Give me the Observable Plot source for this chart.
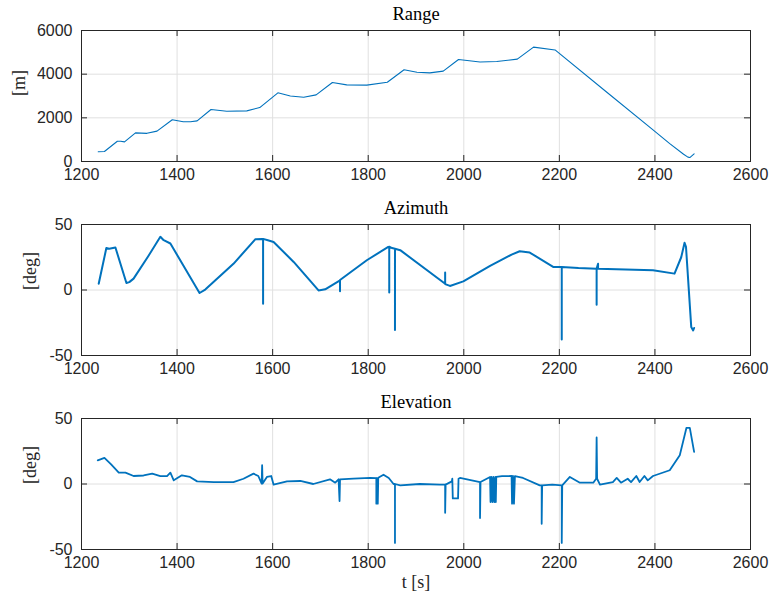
<!DOCTYPE html>
<html>
<head>
<meta charset="utf-8">
<script src="https://cdn.jsdelivr.net/npm/d3@7"></script>
<script src="https://cdn.jsdelivr.net/npm/@observablehq/plot@0.6"></script>
<style>
  body { margin: 0; background: #fff; }
  #chart { position: relative; width: 770px; height: 599px; overflow: hidden; }
  #chart svg { position: absolute; left: 0; }
</style>
</head>
<body>
<div id="chart"></div>
<script>
// ---- tick labels ----
const xTicks = [1200, 1400, 1600, 1800, 2000, 2200, 2400, 2600];
const rangeTicks = [0, 2000, 4000, 6000];
const angleTicks = [-50, 0, 50];

// ---- titles / labels ----
const titles = ["Range", "Azimuth", "Elevation"];
const yLabels = ["[m]", "[deg]", "[deg]"];
const xLabel = "t [s]";

// ---- Range [m] vs t [s] ----
const rangeT = [1235, 1248, 1275, 1282, 1290, 1313, 1337, 1358, 1390, 1413, 1428, 1442, 1471, 1504, 1546, 1573, 1611, 1637, 1665, 1691, 1725, 1755, 1797, 1840, 1875, 1902, 1929, 1957, 1989, 2034, 2069, 2112, 2146, 2191, 2300, 2396, 2431, 2460, 2469, 2473, 2482];
const rangeV = [450, 460, 930, 930, 900, 1310, 1290, 1390, 1910, 1820, 1820, 1860, 2380, 2300, 2320, 2470, 3145, 3000, 2945, 3050, 3620, 3510, 3500, 3630, 4200, 4090, 4060, 4140, 4670, 4560, 4580, 4690, 5240, 5110, 3160, 1450, 820, 330, 200, 180, 350];

// ---- Azimuth [deg] vs t [s] ----
const azT = [1236, 1252, 1258, 1271, 1294, 1300, 1309, 1340, 1365, 1372, 1386, 1447, 1459, 1518, 1564, 1578, 1580, 1580, 1580, 1590, 1602, 1644, 1696, 1710, 1741, 1741, 1741, 1797, 1842, 1844, 1844, 1844, 1850, 1856, 1856, 1856, 1867, 1961, 1961, 1961, 1971, 1999, 2055, 2100, 2117, 2138, 2187, 2205, 2205, 2205, 2240, 2278, 2278, 2278, 2281, 2281, 2396, 2441, 2455, 2462, 2465, 2476, 2480, 2482];
const azV = [4.8, 32, 31.5, 32.4, 5.4, 6, 8.7, 26, 40.6, 38, 35.5, -2.3, 0.3, 20, 38.8, 39, 39, -10.5, 39, 38, 36.7, 21.4, -0.3, 0.5, 7.4, -1, 7.6, 22.7, 32.9, 33, -2, 33, 32, 31.5, -30.6, 31.5, 30.4, 4.8, 13.3, 4.5, 3.1, 6.6, 18.4, 27, 29.6, 28.6, 17.6, 17.6, -37.8, 17.6, 16.8, 16.3, -11.2, 16.3, 20, 16.3, 15, 12.5, 25, 36, 33, -28.3, -30.9, -29];

// ---- Elevation [deg] vs t [s] ----
const elT = [1234, 1248, 1262, 1278, 1292, 1309, 1330, 1348, 1365, 1379, 1386, 1393, 1410, 1427, 1442, 1477, 1518, 1539, 1560, 1570, 1577, 1578, 1579, 1588, 1597, 1602, 1630, 1658, 1685, 1720, 1731, 1738, 1740, 1741, 1769, 1804, 1817, 1817, 1818, 1820, 1821, 1832, 1843, 1853, 1856, 1856, 1856, 1867, 1908, 1950, 1961, 1961, 1962, 1975, 1976, 1977, 1988, 1989, 1992, 2034, 2034, 2035, 2055, 2056, 2058, 2060, 2062, 2064, 2066, 2067, 2068, 2080, 2100, 2101, 2103, 2105, 2107, 2124, 2159, 2163, 2163, 2164, 2185, 2205, 2205, 2206, 2222, 2243, 2271, 2277, 2278, 2279, 2285, 2312, 2320, 2329, 2343, 2350, 2361, 2368, 2378, 2385, 2396, 2431, 2452, 2466, 2473, 2482];
const elV = [18.1, 19.9, 15, 8.7, 8.7, 6.1, 6.5, 7.9, 6, 6.1, 8.7, 2.8, 6.6, 5.4, 2, 1.5, 1.5, 4, 7.9, 6.1, 0.3, 14.3, 0.3, 5.4, 6.1, -0.5, 2, 2.3, 0, 3.6, 1, 3.6, -13, 3.6, 4.1, 4.6, 4.5, -15, 4.5, -15, 4.8, 7.1, 4.6, 0, 0, -45, 0, -1, 0, -0.5, -0.5, -22, -0.5, 2, 4, -11, -11, 4, 4.6, 1.5, -26, 1.5, 5.4, -13.8, 5.4, -13.8, 5.4, -13.8, 5.4, -13.8, 5.5, 6, 6.1, -15, 6.1, -15, 6, 4.6, -1, -1, -30.4, -1, -0.5, -1, -45, -1, 5.4, 1, 1, 4, 35.5, 4, -0.5, 1.5, 4.6, 1, 4, 1.5, 6.1, 1.5, 6.1, 2.8, 6.1, 10.5, 21.9, 42.9, 42.9, 24.5];

const zip = (T, V) => T.map((t, i) => ({t, v: V[i]}));

const W = 770, ML = 81, MR = 20, MT = 30, FH = 131;
const FW = W - ML - MR;
const ink = "#262626";
const blue = "#0072BD";
const serif = "'Liberation Serif', 'Times New Roman', serif";
const fmt = d => String(d);

function panel({data, yDomain, yTicks, title, ylabel, ylabelDx, top, height, lineWidth, xlab}) {
  const marks = [
    Plot.gridX(xTicks, {stroke: "#e0e0e0", strokeOpacity: 1, strokeWidth: 1}),
    Plot.gridY(yTicks, {stroke: "#e0e0e0", strokeOpacity: 1, strokeWidth: 1}),
    Plot.line(data, {x: "t", y: "v", stroke: blue, strokeWidth: lineWidth}),
    Plot.ruleX(xTicks, {stroke: ink, insetTop: FH - 6}),
    Plot.ruleX(xTicks, {stroke: ink, insetBottom: FH - 6}),
    Plot.ruleY(yTicks, {stroke: ink, insetRight: FW - 6}),
    Plot.ruleY(yTicks, {stroke: ink, insetLeft: FW - 6}),
    Plot.frame({stroke: ink, strokeWidth: 1}),
    Plot.axisX(xTicks, {tickSize: 0, tickPadding: 7, label: null, fill: ink, tickFormat: fmt}),
    Plot.axisY(yTicks, {tickSize: 0, tickPadding: 9, label: null, fill: ink, tickFormat: fmt}),
    Plot.text([title], {text: d => d, frameAnchor: "top", lineAnchor: "middle", dy: -16, fontFamily: serif, fontSize: 18.5, fill: "#000"}),
    Plot.text([ylabel], {text: d => d, frameAnchor: "left", lineAnchor: "middle", dx: ylabelDx, rotate: -90, fontFamily: serif, fontSize: 18, fill: ink})
  ];
  if (xlab) marks.push(Plot.text([xlab], {text: d => d, frameAnchor: "bottom", lineAnchor: "middle", dy: 33, fontFamily: serif, fontSize: 18, fill: ink}));
  const svg = Plot.plot({
    width: W, height,
    marginLeft: ML, marginRight: MR, marginTop: MT, marginBottom: height - MT - FH,
    style: {fontFamily: "'Liberation Sans', Helvetica, Arial, sans-serif", fontSize: "16px", color: ink, background: "transparent", overflow: "visible"},
    x: {domain: [1200, 2600]},
    y: {domain: yDomain},
    marks
  });
  svg.style.top = top + "px";
  return svg;
}

const chart = document.getElementById("chart");
chart.append(panel({data: zip(rangeT, rangeV), yDomain: [0, 6000], yTicks: rangeTicks, title: titles[0], ylabel: yLabels[0], ylabelDx: -62, top: 0, height: 194, lineWidth: 1.1}));
chart.append(panel({data: zip(azT, azV), yDomain: [-50, 50], yTicks: angleTicks, title: titles[1], ylabel: yLabels[1], ylabelDx: -51, top: 194, height: 194, lineWidth: 2}));
chart.append(panel({data: zip(elT, elV), yDomain: [-50, 50], yTicks: angleTicks, title: titles[2], ylabel: yLabels[2], ylabelDx: -51, top: 388, height: 211, lineWidth: 1.8, xlab: xLabel}));
</script>
</body>
</html>
